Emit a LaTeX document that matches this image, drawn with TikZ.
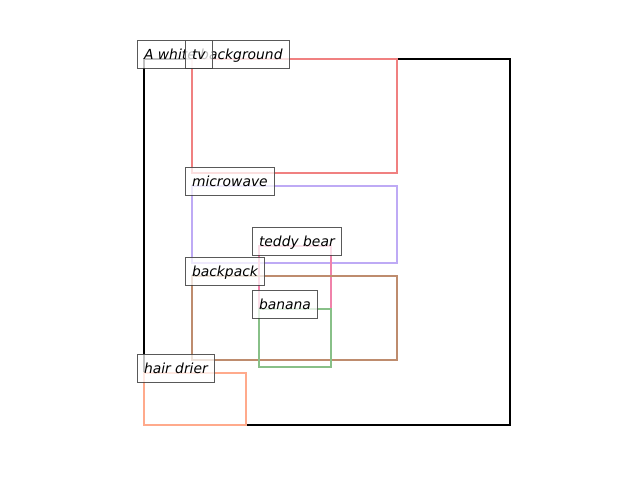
\documentclass[tikz,border=0pt]{standalone}
\usepackage{fontspec}
\setmainfont{DejaVu Sans}
\begin{document}
\begin{tikzpicture}[x=0.75pt,y=-0.75pt,
  box/.style={line width=1.5pt},
  lbl/.style={draw={rgb,255:red,60;green,60;blue,60}, draw opacity=0.85, fill=white, fill opacity=0.75, text opacity=1,
    line width=0.75pt, anchor=base west, inner xsep=5.25pt, inner ysep=4.5pt, outer sep=0pt,
    text height=9.75pt, text depth=2.25pt, font=\fontsize{10.4}{12}\selectfont\itshape}]
\definecolor{ctv}{RGB}{240,128,128}
\definecolor{cmw}{RGB}{190,170,245}
\definecolor{cted}{RGB}{240,130,170}
\definecolor{cbp}{RGB}{190,140,110}
\definecolor{cban}{RGB}{136,192,136}
\definecolor{chd}{RGB}{255,170,140}
\useasboundingbox (0,0) rectangle (640,480);
\draw[box,black] (144,59) rectangle (510,425);
\draw[box,ctv] (192,59) rectangle (397,173);
\draw[box,cmw] (192,186) rectangle (397,263);
\draw[box,cted] (259,246) rectangle (331,309);
\draw[box,cbp] (192,276) rectangle (397,360);
\draw[box,cban] (259,309) rectangle (331,367);
\draw[box,chd] (144,373) rectangle (246,425);
\node[lbl] (lbg) at (137,59) {A white background};
\node[lbl] (ltv) at (185,59) {tv};
\node[lbl] (lmw) at (185,186) {microwave};
\node[lbl] (lted) at (252,246) {teddy bear};
\node[lbl] (lbp) at (185,276) {backpack};
\node[lbl] (lban) at (252,309) {banana};
\node[lbl] (lhd) at (137,373) {hair drier};
\end{tikzpicture}
\end{document}
